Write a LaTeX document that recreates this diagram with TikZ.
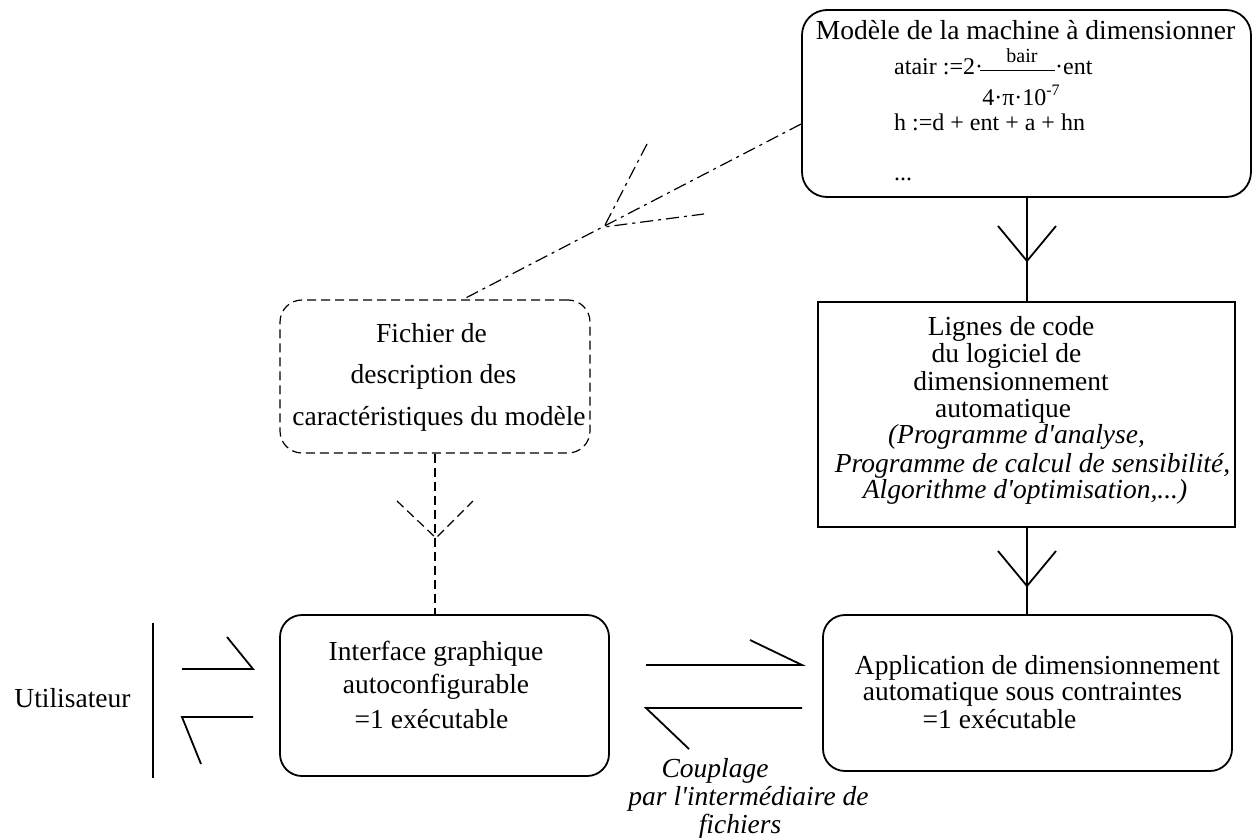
\documentclass[tikz,border=0pt]{standalone}
\usepackage{fontspec}
\setmainfont{Liberation Serif}[Ligatures=TeXOff]
\begin{document}
\begin{tikzpicture}[x=1pt,y=-1pt,
  box/.style={draw, line width=1.8pt, inner sep=0pt},
  txt/.style={inner sep=0pt, anchor=base, font=\fontsize{27.5}{33}\selectfont},
  itxt/.style={inner sep=0pt, anchor=base, font=\fontsize{27.5}{33}\selectfont\itshape},
  ftxt/.style={inner sep=0pt, font=\fontsize{24}{28}\selectfont},
  conn/.style={line width=1.8pt},
  dconn/.style={line width=1.2pt, dash pattern=on 9pt off 5pt},
  ddconn/.style={line width=1.2pt, dash pattern=on 13pt off 5pt on 3pt off 5pt}]
\useasboundingbox (0,0) rectangle (1253,838);

% boxes
\node[box, rounded corners=25pt, minimum width=449pt, minimum height=187pt] (top) at (1026.5,103.5) {};
\node[box, minimum width=417pt, minimum height=225pt] (code) at (1026.5,414.5) {};
\node[box, dconn, rounded corners=22pt, minimum width=310pt, minimum height=153pt] (desc) at (435,376.5) {};
\node[box, rounded corners=22pt, minimum width=329pt, minimum height=161pt] (iface) at (444.5,695.5) {};
\node[box, rounded corners=22pt, minimum width=409pt, minimum height=156pt] (app) at (1027.5,693) {};

% top box text
\node[txt] (t0) at (1025.5,39) {Modèle de la machine à dimensionner};
\node[ftxt, anchor=base west] (f1) at (894,74) {atair :=2·};
\draw[line width=1pt] (980,70) -- (1055,70);
\node[ftxt, anchor=base, font=\fontsize{20}{24}\selectfont] (f2) at (1022,62) {bair};
\node[ftxt, anchor=base] (f3) at (1021,105) {4·π·10\raisebox{10pt}{\fontsize{16}{16}\selectfont -7}};
\node[ftxt, anchor=base west] (f4) at (1055,74) {·ent};
\node[ftxt, anchor=base west] (f5) at (894,130) {h :=d + ent + a + hn};
\node[ftxt, anchor=base west] (f6) at (894,180) {...};

% code box text
\node[txt] (c1) at (1011,335) {Lignes de code};
\node[txt] (c2) at (1006.5,362) {du logiciel de};
\node[txt] (c3) at (1011,390) {dimensionnement};
\node[txt] (c4) at (1003,417) {automatique};
\node[itxt] (c5) at (1016.5,443) {(Programme d'analyse,};
\node[itxt] (c6) at (1032.5,472) {Programme de calcul de sensibilité,};
\node[itxt] (c7) at (1025,498) {Algorithme d'optimisation,...)};

% description box text
\node[txt] (d1) at (431.5,342) {Fichier de};
\node[txt] (d2) at (433.5,383) {description des};
\node[txt] (d3) at (439,425) {caractéristiques du modèle};

% interface text
\node[txt] (i1) at (436,660) {Interface graphique};
\node[txt] (i2) at (436,693) {autoconfigurable};
\node[txt] (i3) at (431.5,728) {=1 exécutable};

% application text
\node[txt] (a1) at (1037.5,674) {Application de dimensionnement};
\node[txt] (a2) at (1022.5,700) {automatique sous contraintes};
\node[txt] (a3) at (999.5,728) {=1 exécutable};

% user and coupling
\node[txt] (user) at (72.5,707) {Utilisateur};
\node[itxt] (k1) at (715,777) {Couplage};
\node[itxt] (k2) at (748.5,805) {par l'intermédiaire de};
\node[itxt] (k3) at (740,833) {fichiers};

% vertical solid connectors with mid arrowheads
\draw[conn] (1027,0 |- top.south) -- (1027,0 |- code.north);
\coordinate (h1) at (1027,261);
\draw[conn] (h1) ++(-29,-35) -- (h1) -- ++(29,-35);
\draw[conn] (1027,0 |- code.south) -- (1027,0 |- app.north);
\coordinate (h2) at (1027,586);
\draw[conn] (h2) ++(-29,-35) -- (h2) -- ++(29,-35);

% dashed vertical connector
\draw[dconn] (desc.south) -- (desc.south |- iface.north);
\coordinate (h3) at (436,538);
\draw[dconn] (h3) ++(-39,-37) -- (h3) -- ++(37,-37);

% dash-dot connector
\draw[ddconn] ([yshift=-20.5pt]top.west) -- ([xshift=28pt]desc.north);
\coordinate (h4) at (604,227);
\draw[ddconn] (647,144) -- (h4) -- (704,214);

% coupling arrows
\coordinate (r1) at (646,665);
\coordinate (r2) at (802,665);
\draw[conn] (r1) -- (r2) -- (750,640);
\coordinate (l1) at (802,708);
\coordinate (l2) at (646,708);
\draw[conn] (l1) -- (l2) -- (689,749);

% user arrows
\coordinate (u0) at (153,623);
\coordinate (u1) at (153,778);
\draw[conn] (u0) -- (u1);
\coordinate (ua) at (182,669);
\coordinate (ub) at (253,669);
\draw[conn] (ua) -- (ub) -- (227,637);
\coordinate (uc) at (253,717);
\coordinate (ud) at (182,717);
\draw[conn] (uc) -- (ud) -- (201,764);
\end{tikzpicture}
\end{document}
